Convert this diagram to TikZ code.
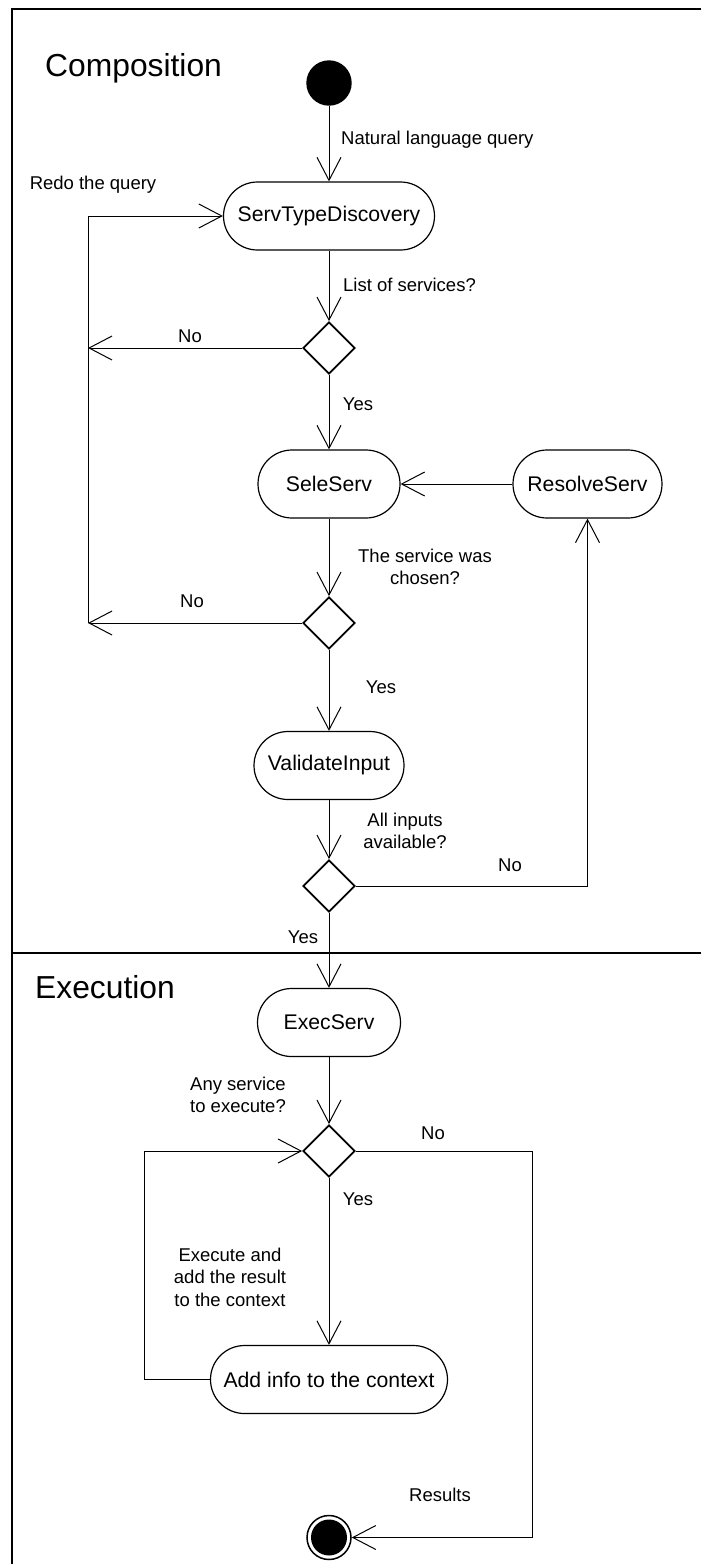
\documentclass[tikz,border=0pt]{standalone}
\usepackage{fontspec}
\setmainfont{Liberation Sans}
\usetikzlibrary{arrows.meta,shapes.geometric}
\begin{document}
\begin{tikzpicture}[x=1pt,y=-1pt,
  act/.style={draw,line width=1.2pt,rounded corners=34pt,minimum height=68pt,
              inner sep=0pt,font=\fontsize{21.2}{25}\selectfont},
  dec/.style={draw,diamond,line width=1.8pt,minimum width=52pt,minimum height=52pt,inner sep=0pt},
  lbl/.style={font=\fontsize{18.5}{22.5}\selectfont,inner sep=0pt,align=center},
  flow/.style={line width=1pt,-{Straight Barb[length=23pt,width=24pt]}},
  frameline/.style={line width=2pt},
  title/.style={font=\fontsize{31.8}{36}\selectfont,inner sep=0pt,anchor=base west}]
\useasboundingbox (0,0) rectangle (701,1564);

% swimlane frame
\draw[frameline] (11.5,1570) -- (11.5,8.7) -- (705,8.7);
\draw[frameline] (11.5,952.5) -- (705,952.5);
\node[title] (tcomp) at (45,76) {Composition};
\node[title] (texec) at (35,998.3) {Execution};

% activities
\node[circle,fill=black,minimum size=45.4pt,inner sep=0pt] (start) at (329,83) {};
\node[act,minimum width=211pt] (std) at (329,216) {ServTypeDiscovery};
\node[dec] (d1) at (329,348) {};
\node[act,minimum width=142pt] (ss) at (329,484) {SeleServ};
\node[act,minimum width=149pt] (rs) at (587.5,484) {ResolveServ};
\node[dec] (d2) at (329,623) {};
\node[act,minimum width=150pt] (vi) at (329,765.5) {ValidateInput};
\node[dec] (d3) at (329,886) {};
\node[act,minimum width=143pt] (es) at (329,1022.5) {ExecServ};
\node[dec] (d4) at (329,1151) {};
\node[act,minimum width=237pt] (ai) at (329,1379.5) {Add info to the context};
\node[circle,draw,line width=1.5pt,minimum size=44pt,inner sep=0pt] (end) at (329,1537.5) {};
\fill (end.center) circle (18pt);

% main flow
\draw[flow] (start) -- (std);
\draw[flow] (std) -- (d1);
\draw[flow] (d1) -- (ss);
\draw[flow] (ss) -- (d2);
\draw[flow] (d2) -- (vi);
\draw[flow] (vi) -- (d3);
\draw[flow] (d3) -- (es);
\draw[flow] (es) -- (d4);
\draw[flow] (d4) -- (ai);
\draw[flow] (rs) -- (ss);

% redo loop
\coordinate (redoA) at (88,348);
\coordinate (redoB) at (88,623);
\draw[flow] (d1.west) -- (redoA);
\draw[flow] (d2.west) -- (redoB);
\draw[flow] (redoB) -- (redoB |- std.west) -- (std.west);

% missing inputs
\coordinate (rsloop) at (rs.south |- d3.east);
\draw[flow] (d3.east) -- (rsloop) -- (rs.south);

% execution loop
\coordinate (execloop) at (144,1379.5);
\draw[flow] (ai.west) -- (execloop) -- (execloop |- d4.west) -- (d4.west);
\coordinate (resloop) at (532,1537.5);
\draw[flow] (d4.east) -- (resloop |- d4.east) -- (resloop) -- (end.east);

% guard labels
\node[lbl,anchor=west] (l1) at (341,140) {Natural language query};
\node[lbl] (l2) at (93,185) {Redo the query};
\node[lbl,anchor=west] (l3) at (343,285) {List of services?};
\node[lbl] (l4) at (190,336) {No};
\node[lbl] (l5) at (358,404) {Yes};
\node[lbl] (l6) at (425,567) {The service was\\chosen?};
\node[lbl] (l7) at (192,601) {No};
\node[lbl] (l8) at (381,687) {Yes};
\node[lbl] (l9) at (405,831) {All inputs\\available?};
\node[lbl] (l10) at (510,865) {No};
\node[lbl] (l11) at (303,937) {Yes};
\node[lbl] (l12) at (238,1095) {Any service\\to execute?};
\node[lbl] (l13) at (433,1133) {No};
\node[lbl] (l14) at (358,1199) {Yes};
\node[lbl] (l15) at (230,1277) {Execute and\\add the result\\to the context};
\node[lbl] (l16) at (440,1495) {Results};
\end{tikzpicture}
\end{document}
